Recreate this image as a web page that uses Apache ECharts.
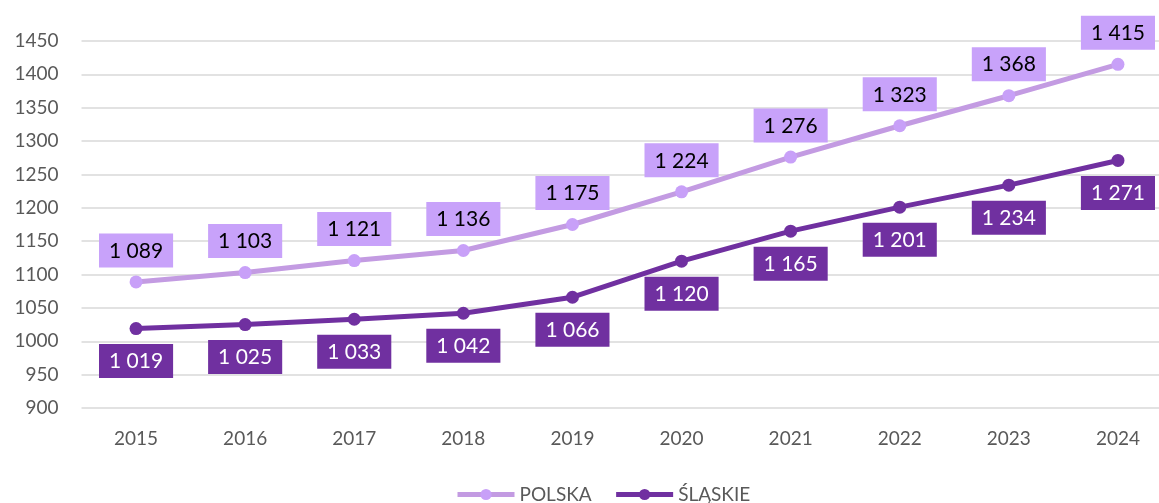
<!DOCTYPE html>
<html>
<head>
<meta charset="utf-8">
<script src="https://cdn.jsdelivr.net/npm/echarts@6/dist/echarts.min.js"></script>
<style>
  html, body { margin: 0; padding: 0; background: #fff; }
  #chart { width: 1159px; height: 503px; }
</style>
</head>
<body>
<div id="chart"></div>
<script>
// Years on the category axis
const years = ['2015', '2016', '2017', '2018', '2019', '2020', '2021', '2022', '2023', '2024'];
// Values per region
const polska = [1089, 1103, 1121, 1136, 1175, 1224, 1276, 1323, 1368, 1415];
const slaskie = [1019, 1025, 1033, 1042, 1066, 1120, 1165, 1201, 1234, 1271];
const seriesNames = ['POLSKA', 'ŚLĄSKIE'];

const FONT = 'Lato, "Open Sans", sans-serif';
// Thousands grouped with a space, e.g. "1 089"
const fmt = v => {
  const s = String(Math.round(v));
  return s.length > 3 ? s.slice(0, s.length - 3) + ' ' + s.slice(-3) : s;
};

const chart = echarts.init(document.getElementById('chart'));
chart.setOption({
  backgroundColor: '#ffffff',
  animation: false,
  grid: { left: 81.5, right: -13.5, top: 41, bottom: 95, outerBoundsMode: 'none', containLabel: false },
  legend: {
    bottom: -6,
    left: 450,
    itemWidth: 57,
    itemHeight: 14,
    itemGap: 22,
    lineStyle: { width: 5 },
    textStyle: { color: '#595959', fontSize: 19, fontFamily: FONT },
    data: seriesNames
  },
  xAxis: {
    type: 'category',
    data: years,
    boundaryGap: true,
    axisLine: { show: false },
    axisTick: { show: false },
    axisLabel: { color: '#595959', fontSize: 19, fontFamily: FONT, margin: 21 }
  },
  yAxis: {
    type: 'value',
    min: 900,
    max: 1450,
    interval: 50,
    axisLine: { show: false },
    axisTick: { show: false },
    splitLine: { lineStyle: { color: '#d9d9d9', width: 1.5 } },
    axisLabel: { color: '#595959', fontSize: 19, fontFamily: FONT, margin: 23, formatter: v => String(v) }
  },
  series: [
    {
      name: seriesNames[0],
      type: 'line',
      data: polska,
      symbol: 'circle',
      symbolSize: 13,
      lineStyle: { color: '#c39be2', width: 5 },
      itemStyle: { color: '#c8a0f8' },
      label: {
        show: true,
        position: 'top',
        distance: 8,
        formatter: p => fmt(p.value),
        color: '#000',
        fontSize: 21,
        fontFamily: FONT,
        backgroundColor: '#c8a2fa',
        padding: [7, 10, 6, 10]
      },
      z: 3
    },
    {
      name: seriesNames[1],
      type: 'line',
      data: slaskie,
      symbol: 'circle',
      symbolSize: 13,
      lineStyle: { color: '#7030a0', width: 5 },
      itemStyle: { color: '#7030a0' },
      label: {
        show: true,
        position: 'bottom',
        distance: 9,
        formatter: p => fmt(p.value),
        color: '#fff',
        fontSize: 21,
        fontFamily: FONT,
        backgroundColor: '#7030a0',
        padding: [7, 10, 6, 10]
      },
      z: 3
    }
  ]
});
</script>
</body>
</html>
